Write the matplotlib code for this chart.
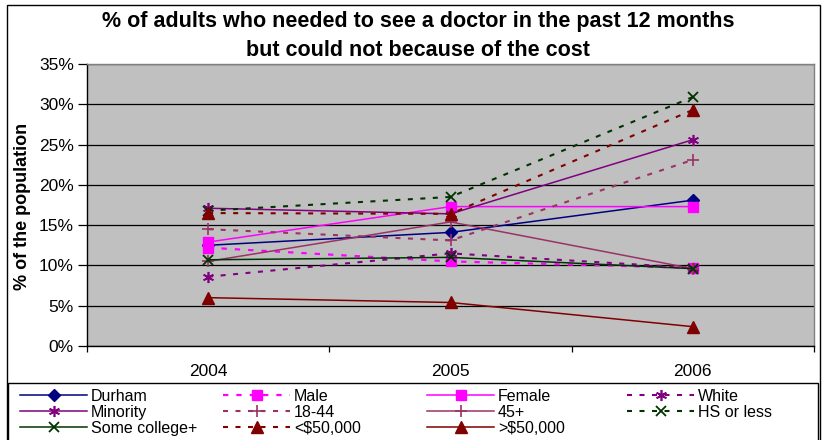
import matplotlib
matplotlib.use("Agg")
import matplotlib.pyplot as plt
from matplotlib.patches import Rectangle
from matplotlib.ticker import FixedLocator, FuncFormatter, NullFormatter

plt.rcParams['font.family'] = ['Liberation Sans', 'DejaVu Sans']

# --- data -------------------------------------------------------------
years = ["2004", "2005", "2006"]

durham       = [12.5, 14.1, 18.1]
male         = [12.2, 10.5, 9.7]
female       = [12.9, 17.3, 17.3]
white        = [8.6, 11.5, 9.7]
minority     = [17.1, 16.4, 25.6]
age_18_44    = [14.5, 13.1, 23.1]
age_45_plus  = [10.5, 15.4, 9.6]
hs_or_less   = [16.8, 18.5, 30.9]
some_college = [10.7, 11.0, 9.6]
under_50k    = [16.5, 16.4, 29.3]
over_50k     = [6.0, 5.4, 2.4]

y_ticks = [0, 5, 10, 15, 20, 25, 30, 35]

# --- figure geometry (pixels) -----------------------------------------
W, H = 825, 440
fig = plt.figure(figsize=(W / 100, H / 100), dpi=100)

def fx(px):
    return px / W

def fy(py):
    return 1 - py / H

ax_l, ax_t, ax_r, ax_b = 87, 64, 814, 346
ax = fig.add_axes([fx(ax_l), fy(ax_b), fx(ax_r - ax_l), (ax_b - ax_t) / H])
ax.set_facecolor('#C0C0C0')

NAVY = '#000080'
MAGENTA = '#FF00FF'
PURPLE = '#800080'
PLUM = '#993366'
GREEN = '#003300'
MAROON = '#800000'
ASTER = (6, 2, 0)

dash = (0, (2.4, 3.6))

series = [
    ("Durham", durham, dict(color=NAVY, ls='-', marker='D', ms=6.5)),
    ("Male", male, dict(color=MAGENTA, ls=dash, marker='s', ms=7, lw=1.6)),
    ("Female", female, dict(color=MAGENTA, ls='-', marker='s', ms=7)),
    ("White", white, dict(color=PURPLE, ls=dash, marker=ASTER, ms=8, mew=1.2, lw=1.5)),
    ("Minority", minority, dict(color=PURPLE, ls='-', marker=ASTER, ms=8, mew=1.2)),
    ("18-44", age_18_44, dict(color=PLUM, ls=dash, marker='+', ms=9, mew=1.2, lw=1.5)),
    ("45+", age_45_plus, dict(color=PLUM, ls='-', marker='+', ms=9, mew=1.2)),
    ("HS or less", hs_or_less, dict(color=GREEN, ls=dash, marker='x', ms=7.5, mew=1.3, lw=1.5)),
    ("Some college+", some_college, dict(color=GREEN, ls='-', marker='x', ms=7.5, mew=1.3)),
    ("<$50,000", under_50k, dict(color=MAROON, ls=dash, marker='^', ms=8, lw=1.5)),
    (">$50,000", over_50k, dict(color=MAROON, ls='-', marker='^', ms=8)),
]

x = list(range(len(years)))
handles = {}
for name, vals, st in series:
    st = dict(st)
    st.setdefault('lw', 1.1)
    st.setdefault('mew', 1.0)
    line, = ax.plot(x, vals, color=st['color'], linestyle=st['ls'], lw=st['lw'],
                    marker=st['marker'], markersize=st['ms'],
                    markeredgewidth=st['mew'], markerfacecolor=st['color'],
                    markeredgecolor=st['color'], clip_on=False, zorder=3)
    handles[name] = line

# --- axes styling -----------------------------------------------------
ax.set_xlim(-0.5, len(years) - 0.5)
ax.set_ylim(0, 35)
ax.set_yticks(y_ticks)
ax.yaxis.set_major_formatter(FuncFormatter(lambda v, p: f"{int(v)}%"))
ax.grid(axis='y', color='#000000', lw=0.9, zorder=1)
ax.set_axisbelow(True)

ax.xaxis.set_major_locator(FixedLocator([i - 0.5 for i in range(len(years) + 1)]))
ax.xaxis.set_major_formatter(NullFormatter())
ax.set_xticks(x, years, minor=True)
ax.tick_params(axis='x', which='major', direction='out', length=4.5, width=0.9)
ax.tick_params(axis='x', which='minor', length=0, pad=13, labelsize=12.5)
ax.tick_params(axis='y', direction='out', length=6.5, width=0.9, pad=3, labelsize=12.5)

for side in ('left', 'bottom'):
    ax.spines[side].set_color('black')
    ax.spines[side].set_linewidth(1.0)
for side in ('top', 'right'):
    ax.spines[side].set_color('#808080')
    ax.spines[side].set_linewidth(1.0)

# --- titles -----------------------------------------------------------
fig.text(fx(418), fy(22), "% of adults who needed to see a doctor in the past 12 months",
         ha='center', va='center', fontsize=15.5, fontweight='bold')
fig.text(fx(418), fy(50), "but could not because of the cost",
         ha='center', va='center', fontsize=15.5, fontweight='bold')
fig.text(fx(23), fy(206), "% of the population", rotation=90,
         ha='center', va='center', fontsize=13, fontweight='bold')

# --- chart and legend borders -----------------------------------------
fig.patches.append(Rectangle((fx(7), fy(446)), fx(820 - 7), (446 - 5) / H,
                             transform=fig.transFigure, fill=False,
                             edgecolor='#000000', lw=1.0))
fig.patches.append(Rectangle((fx(8), fy(446)), fx(818 - 8), (446 - 383) / H,
                             transform=fig.transFigure, fill=False,
                             edgecolor='#000000', lw=1.0))

# --- legend: four columns --------------------------------------------
columns = [
    (20, ["Durham", "Minority", "Some college+"]),
    (223, ["Male", "18-44", "<$50,000"]),
    (427, ["Female", "45+", ">$50,000"]),
    (627, ["White", "HS or less"]),
]
for px, names in columns:
    fig.legend([handles[n] for n in names], names, loc='upper left',
               bbox_to_anchor=(fx(px), fy(388.5)), bbox_transform=fig.transFigure,
               frameon=False, fontsize=11.5, handlelength=4.2, handletextpad=0.25,
               labelspacing=0.08, borderpad=0, borderaxespad=0, numpoints=1)

fig.savefig("out.png", dpi=100)
